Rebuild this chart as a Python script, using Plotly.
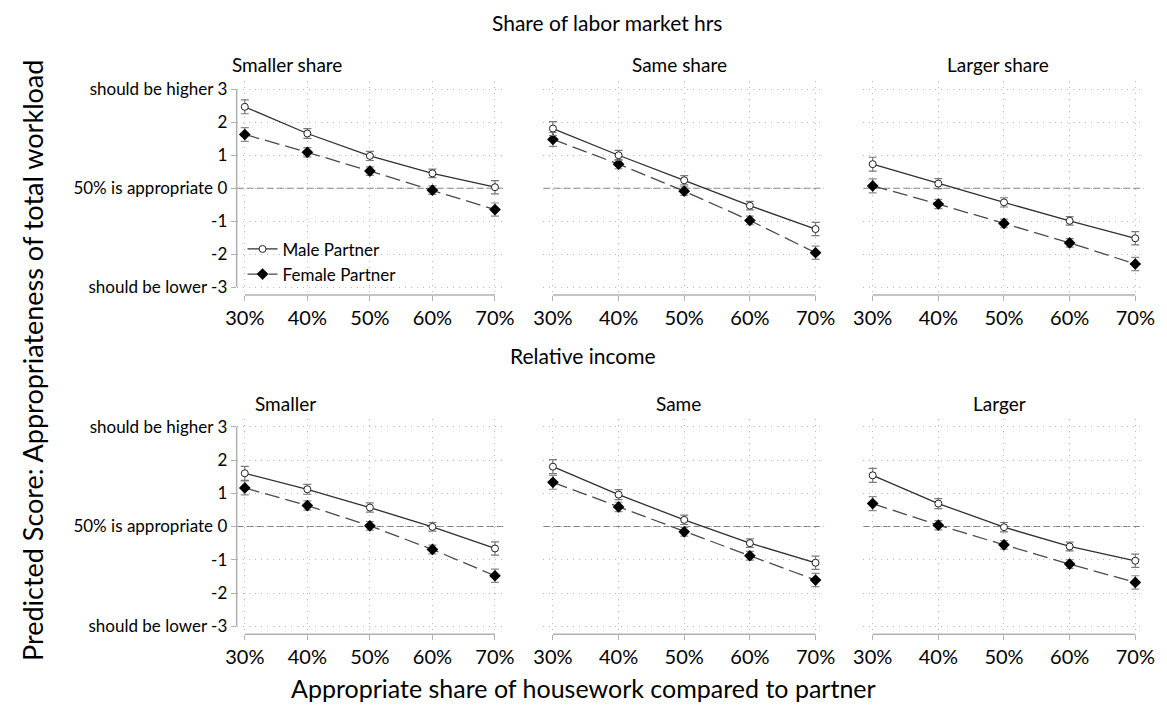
import plotly.graph_objects as go

# Appropriate share of housework (x, percent)
shares = [30, 40, 50, 60, 70]
tick_text = ["30%", "40%", "50%", "60%", "70%"]

# Predicted scores, panels: labor-market share (top row), relative income (bottom row)
male_smaller_share = [2.47, 1.66, 0.98, 0.45, 0.03]
female_smaller_share = [1.63, 1.09, 0.52, -0.06, -0.65]
male_same_share = [1.81, 1.00, 0.24, -0.53, -1.24]
female_same_share = [1.48, 0.73, -0.09, -0.98, -1.96]
male_larger_share = [0.73, 0.14, -0.43, -0.99, -1.52]
female_larger_share = [0.07, -0.48, -1.07, -1.66, -2.30]

male_smaller_inc = [1.60, 1.12, 0.57, -0.01, -0.66]
female_smaller_inc = [1.16, 0.63, 0.02, -0.69, -1.48]
male_same_inc = [1.80, 0.96, 0.20, -0.50, -1.09]
female_same_inc = [1.33, 0.59, -0.16, -0.88, -1.61]
male_larger_inc = [1.54, 0.69, -0.02, -0.60, -1.03]
female_larger_inc = [0.69, 0.04, -0.55, -1.13, -1.68]

# 95% confidence interval half-widths
ci_male = [0.21, 0.15, 0.14, 0.13, 0.20]
ci_female = [0.21, 0.14, 0.13, 0.13, 0.20]

panel_titles = ["Smaller share", "Same share", "Larger share", "Smaller", "Same", "Larger"]
row_titles = ["Share of labor market hrs", "Relative income"]

y_tick_vals = [-3, -2, -1, 0, 1, 2, 3]
y_tick_text = ["should be lower -3", "-2", "-1", "50% is appropriate 0", "1", "2", "should be higher 3"]

male_series = [male_smaller_share, male_same_share, male_larger_share,
               male_smaller_inc, male_same_inc, male_larger_inc]
female_series = [female_smaller_share, female_same_share, female_larger_share,
                 female_smaller_inc, female_same_inc, female_larger_inc]

W, H = 1167, 715
FONT = "Lato"
TXT = "#000000"


def px_x(p):
    return p / W


def px_y(p):
    return 1 - p / H


# plot-region geometry (pixels) for the three columns and two rows
col_px = [(230.0, 501.7), (542.7, 828.7), (868.6, 1154.6)]
col_range = [[28.70, 71.32], [28.56, 71.30], [28.56, 71.30]]
row_px = [(79.0, 294.0), (418.7, 635.7)]
y_range = [-3.24, 3.24]

fig = go.Figure()
layout = {}
shapes = []
annotations = []

for i in range(6):
    r, c = divmod(i, 3)
    n = i + 1
    xa = "x" if n == 1 else f"x{n}"
    ya = "y" if n == 1 else f"y{n}"
    xkey = "xaxis" if n == 1 else f"xaxis{n}"
    ykey = "yaxis" if n == 1 else f"yaxis{n}"

    layout[xkey] = dict(
        domain=[px_x(col_px[c][0]), px_x(col_px[c][1])],
        range=col_range[c], anchor=ya,
        tickvals=shares, ticktext=tick_text,
        ticks="outside", ticklen=5, tickcolor="#b0b0b0",
        showline=False, zeroline=False,
        showgrid=True, gridcolor="#b8b8b8", griddash="1px,5px", gridwidth=1,
        tickfont=dict(family=FONT, size=20, color=TXT),
        fixedrange=True,
    )
    layout[ykey] = dict(
        domain=[px_y(row_px[r][1]), px_y(row_px[r][0])],
        range=y_range, anchor=xa,
        tickvals=y_tick_vals, ticktext=y_tick_text,
        showticklabels=(c == 0),
        ticks="outside" if c == 0 else "", ticklen=5, tickcolor="#b0b0b0",
        showline=False, zeroline=False,
        showgrid=True, gridcolor="#b8b8b8", griddash="1px,5px", gridwidth=1,
        tickfont=dict(family=FONT, size=17, color=TXT),
        fixedrange=True,
    )

    # reference line at zero
    shapes.append(dict(type="line", xref=f"{xa} domain", yref=ya, x0=0, x1=1, y0=0, y1=0,
                       line=dict(color="#808080", width=1.1, dash="7px,3px"), layer="below"))
    # x axis line spanning the tick range
    shapes.append(dict(type="line", xref=xa, yref=f"{ya} domain", x0=shares[0], x1=shares[-1],
                       y0=0, y1=0, line=dict(color="#b0b0b0", width=1.5)))
    if c == 0:
        shapes.append(dict(type="line", xref=f"{xa} domain", yref=ya, x0=0, x1=0,
                           y0=y_tick_vals[0], y1=y_tick_vals[-1],
                           line=dict(color="#b0b0b0", width=1.5)))

    fig.add_trace(go.Scatter(
        x=shares, y=female_series[i], xaxis=xa, yaxis=ya,
        mode="lines+markers", name="Female Partner", showlegend=(i == 0),
        line=dict(color="#4a4a4a", width=1.3, dash="15px,6px"),
        marker=dict(symbol="diamond", size=9, color="#000000", line=dict(width=0)),
        error_y=dict(type="data", array=ci_female, color="#8a8a8a", thickness=1.2, width=4),
    ))
    fig.add_trace(go.Scatter(
        x=shares, y=male_series[i], xaxis=xa, yaxis=ya,
        mode="lines+markers", name="Male Partner", showlegend=(i == 0),
        line=dict(color="#303030", width=1.3),
        marker=dict(symbol="circle", size=7, color="#ffffff", line=dict(color="#202020", width=1)),
        error_y=dict(type="data", array=ci_male, color="#7a7a7a", thickness=1.2, width=4),
    ))

# panel titles
title_x = [281, 681, 1006, 280, 680, 1008]
title_y = [62, 62, 62, 403, 403, 403]
for t, xp, yp in zip(panel_titles, title_x, title_y):
    annotations.append(dict(text=t, x=px_x(xp), y=px_y(yp), xref="paper", yref="paper",
                            showarrow=False, xanchor="center", yanchor="middle",
                            font=dict(family=FONT, size=19, color=TXT)))

annotations.append(dict(text=row_titles[0], x=px_x(607), y=px_y(20), xref="paper", yref="paper",
                        showarrow=False, xanchor="center", yanchor="middle",
                        font=dict(family=FONT, size=21, color=TXT)))
annotations.append(dict(text=row_titles[1], x=px_x(583), y=px_y(355), xref="paper", yref="paper",
                        showarrow=False, xanchor="center", yanchor="middle",
                        font=dict(family=FONT, size=21, color=TXT)))
annotations.append(dict(text="Appropriate share of housework compared to partner",
                        x=px_x(583), y=px_y(690), xref="paper", yref="paper",
                        showarrow=False, xanchor="center", yanchor="middle",
                        font=dict(family=FONT, size=25, color=TXT)))
annotations.append(dict(text="Predicted Score: Appropriateness of total workload",
                        x=px_x(22), y=px_y(360), xref="paper", yref="paper", textangle=-90,
                        showarrow=False, xanchor="center", yanchor="middle",
                        font=dict(family=FONT, size=27, color=TXT)))

fig.update_layout(
    width=W, height=H,
    margin=dict(l=0, r=0, t=0, b=0),
    paper_bgcolor="#ffffff", plot_bgcolor="#ffffff",
    shapes=shapes, annotations=annotations,
    legend=dict(x=px_x(236), y=px_y(230), xanchor="left", yanchor="top",
                bgcolor="rgba(0,0,0,0)", traceorder="reversed",
                font=dict(family=FONT, size=17, color=TXT),
                itemwidth=30, tracegroupgap=2),
    **layout,
)

fig.write_html("out.html")
